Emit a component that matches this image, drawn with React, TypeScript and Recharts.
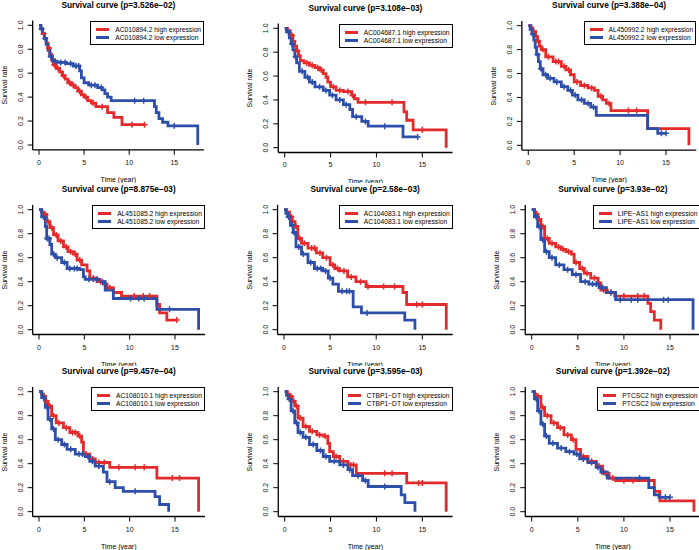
import { LineChart, Line, XAxis, YAxis } from "recharts";

type Step = [number, number];

const FONT = '"Liberation Sans", Arial, Helvetica, sans-serif';
const RED = "#e42a2b";
const BLUE = "#2d4fa9";

const TIME_TICKS = [0, 5, 10, 15];
const RATE_TICKS = [0, 0.2, 0.4, 0.6, 0.8, 1.0];
const X_DOMAIN: [number, number] = [-0.7, 18.3];
const Y_DOMAIN: [number, number] = [-0.04, 1.04];

const GENES = [
  "AC010894.2", "AC004687.1", "AL450992.2",
  "AL451085.2", "AC104083.1", "LIPE\u2212AS1",
  "AC108010.1", "CTBP1\u2212DT", "PTCSC2",
];
const P_VALUES = [
  "3.526e\u221202", "3.108e\u221203", "3.388e\u221204",
  "8.875e\u221203", "2.58e\u221203", "3.93e\u221202",
  "9.457e\u221204", "3.595e\u221203", "1.392e\u221202",
];

// each step: [time in years, survival after the drop]; censor lists are times
const p1High: Step[] = [[0.2, 0.97], [0.4, 0.93], [0.6, 0.89], [0.8, 0.85], [1.0, 0.81], [1.2, 0.76], [1.4, 0.71], [1.6, 0.67], [1.9, 0.64], [2.3, 0.61], [2.6, 0.58], [2.9, 0.55], [3.2, 0.52], [3.6, 0.5], [4.0, 0.48], [4.3, 0.45], [4.7, 0.42], [5.0, 0.4], [5.4, 0.37], [5.8, 0.35], [6.3, 0.32], [7.6, 0.27], [8.3, 0.23], [9.2, 0.17]];
const p1HighCens = [0.5, 1.1, 1.7, 2.1, 2.7, 3.4, 3.8, 4.5, 5.2, 6.0, 7.0, 10.3, 11.7];
const p1Low: Step[] = [[0.2, 0.97], [0.4, 0.93], [0.6, 0.89], [0.8, 0.84], [1.0, 0.79], [1.2, 0.74], [1.5, 0.7], [2.0, 0.69], [3.0, 0.68], [3.8, 0.66], [4.5, 0.62], [4.7, 0.56], [5.0, 0.52], [5.5, 0.5], [6.5, 0.48], [7.0, 0.46], [7.3, 0.43], [7.6, 0.4], [8.0, 0.37], [12.8, 0.32], [13.0, 0.27], [13.3, 0.22], [13.7, 0.19], [14.3, 0.16], [17.6, 0]];
const p1LowCens = [0.3, 0.7, 1.3, 1.8, 2.4, 2.9, 3.5, 4.1, 4.4, 5.8, 6.2, 6.9, 10.6, 11.6, 15.0];

const p2High: Step[] = [[0.3, 0.98], [0.6, 0.94], [0.9, 0.89], [1.1, 0.85], [1.3, 0.81], [1.5, 0.77], [1.7, 0.73], [2.1, 0.71], [2.7, 0.69], [3.3, 0.67], [3.8, 0.65], [4.2, 0.62], [4.5, 0.59], [4.7, 0.55], [5.0, 0.51], [5.6, 0.48], [6.4, 0.47], [7.3, 0.44], [7.6, 0.41], [8.0, 0.38], [13.0, 0.3], [13.3, 0.23], [14.0, 0.15], [17.6, 0]];
const p2HighCens = [0.8, 1.4, 2.4, 3.0, 3.6, 4.0, 5.3, 6.0, 6.9, 7.4, 8.8, 11.7, 15.0];
const p2Low: Step[] = [[0.2, 0.97], [0.5, 0.92], [0.7, 0.87], [0.9, 0.82], [1.1, 0.76], [1.3, 0.71], [1.6, 0.64], [2.2, 0.59], [2.7, 0.55], [3.3, 0.51], [4.2, 0.48], [4.9, 0.44], [5.6, 0.4], [6.4, 0.36], [7.1, 0.32], [7.4, 0.26], [8.4, 0.22], [9.1, 0.18], [12.9, 0.09]];
const p2LowCens = [0.4, 0.8, 1.2, 1.9, 2.5, 3.0, 3.8, 4.5, 5.2, 6.0, 6.7, 7.8, 8.8, 10.9, 14.5];

const p3High: Step[] = [[0.3, 0.98], [0.5, 0.95], [0.8, 0.91], [1.0, 0.87], [1.2, 0.83], [1.4, 0.8], [1.9, 0.74], [2.7, 0.7], [3.6, 0.66], [4.1, 0.63], [4.6, 0.59], [5.0, 0.53], [5.7, 0.5], [6.5, 0.48], [7.2, 0.46], [7.6, 0.41], [8.1, 0.38], [8.5, 0.35], [9.0, 0.29], [13.0, 0.14], [17.5, 0]];
const p3HighCens = [0.6, 1.1, 1.6, 2.2, 3.0, 3.3, 3.9, 4.4, 5.3, 6.1, 6.9, 7.9, 8.8, 10.9, 11.8];
const p3Low: Step[] = [[0.2, 0.97], [0.4, 0.93], [0.6, 0.88], [0.75, 0.82], [0.9, 0.76], [1.1, 0.7], [1.3, 0.64], [1.6, 0.59], [2.1, 0.56], [2.8, 0.53], [3.6, 0.49], [4.3, 0.46], [4.8, 0.42], [5.4, 0.38], [6.1, 0.35], [6.8, 0.32], [7.4, 0.25], [13.0, 0.14], [14.1, 0.1]];
const p3LowCens = [0.5, 1.0, 1.4, 1.9, 2.4, 3.1, 3.9, 4.6, 5.1, 5.8, 6.5, 7.1, 14.5, 15.0];

const p4High: Step[] = [[0.3, 0.98], [0.5, 0.96], [0.85, 0.9], [1.2, 0.85], [1.6, 0.79], [2.1, 0.74], [2.7, 0.69], [3.2, 0.65], [3.8, 0.63], [4.2, 0.58], [4.7, 0.54], [5.3, 0.49], [5.6, 0.43], [6.4, 0.4], [7.1, 0.38], [7.5, 0.35], [8.2, 0.31], [9.1, 0.28], [13.0, 0.21], [13.3, 0.14], [14.1, 0.08]];
const p4HighCens = [0.7, 1.0, 1.4, 1.9, 2.4, 3.0, 3.5, 4.0, 4.5, 6.0, 6.8, 7.8, 10.5, 11.5, 12.2, 15.2];
const p4Low: Step[] = [[0.3, 0.94], [0.7, 0.86], [0.85, 0.76], [1.2, 0.71], [1.4, 0.63], [1.8, 0.6], [2.5, 0.56], [3.1, 0.51], [4.5, 0.5], [4.9, 0.44], [5.1, 0.42], [6.7, 0.4], [7.3, 0.33], [8.2, 0.26], [13.0, 0.17], [17.6, 0]];
const p4LowCens = [0.5, 0.9, 1.1, 1.6, 2.0, 2.8, 3.4, 3.9, 4.2, 5.5, 6.0, 6.4, 7.0, 10.1, 11.0, 11.6, 14.4];

const p5High: Step[] = [[0.3, 0.98], [0.6, 0.94], [0.9, 0.9], [1.2, 0.86], [1.5, 0.76], [1.9, 0.72], [2.6, 0.68], [3.5, 0.64], [4.2, 0.6], [5.0, 0.54], [5.5, 0.51], [6.0, 0.49], [6.9, 0.44], [7.8, 0.4], [8.9, 0.36], [12.9, 0.31], [13.3, 0.21], [17.6, 0]];
const p5HighCens = [0.8, 1.3, 1.7, 2.2, 3.0, 3.3, 3.9, 4.6, 5.3, 5.8, 6.5, 7.3, 8.3, 9.1, 10.8, 12.0, 14.4, 15.0];
const p5Low: Step[] = [[0.2, 0.97], [0.4, 0.94], [0.7, 0.87], [1.0, 0.81], [1.3, 0.69], [1.9, 0.63], [2.6, 0.56], [3.3, 0.51], [4.2, 0.49], [4.8, 0.43], [5.3, 0.38], [5.9, 0.32], [7.5, 0.19], [8.4, 0.14], [13.1, 0.08], [14.2, 0]];
const p5LowCens = [0.5, 0.9, 1.1, 1.6, 2.1, 2.9, 3.6, 4.0, 4.5, 5.0, 6.3, 6.8, 7.1, 9.0];

const p6High: Step[] = [[0.3, 0.98], [0.5, 0.96], [0.7, 0.92], [1.0, 0.86], [1.4, 0.76], [1.9, 0.72], [2.6, 0.69], [3.2, 0.67], [3.7, 0.65], [4.3, 0.63], [4.6, 0.56], [5.2, 0.51], [5.7, 0.47], [6.4, 0.43], [7.2, 0.39], [7.5, 0.33], [8.2, 0.31], [9.0, 0.28], [12.6, 0.22], [12.9, 0.15], [13.3, 0.08], [14.0, 0]];
const p6HighCens = [0.8, 1.2, 1.7, 2.2, 2.9, 3.4, 4.0, 4.8, 5.5, 6.0, 6.8, 7.8, 8.6, 10.0, 11.5, 12.2];
const p6Low: Step[] = [[0.3, 0.94], [0.65, 0.86], [1.0, 0.75], [1.4, 0.65], [1.9, 0.6], [2.6, 0.54], [3.5, 0.5], [4.4, 0.46], [5.3, 0.4], [6.2, 0.38], [7.3, 0.35], [8.1, 0.31], [9.1, 0.25], [17.5, 0]];
const p6LowCens = [0.5, 0.8, 1.2, 1.6, 2.2, 3.0, 3.9, 4.8, 5.8, 6.6, 7.0, 7.7, 8.6, 9.6, 10.8, 11.5, 14.3, 14.8];

const p7High: Step[] = [[0.3, 0.98], [0.5, 0.96], [0.75, 0.92], [1.0, 0.88], [1.4, 0.8], [1.9, 0.74], [2.7, 0.7], [3.4, 0.66], [4.3, 0.63], [4.7, 0.58], [4.9, 0.48], [5.6, 0.44], [6.2, 0.41], [7.8, 0.37], [13.0, 0.28], [17.6, 0]];
const p7HighCens = [0.8, 1.2, 1.6, 2.2, 3.0, 3.7, 4.0, 4.5, 5.2, 5.9, 6.6, 7.2, 8.8, 10.6, 11.6, 14.7, 15.5];
const p7Low: Step[] = [[0.3, 0.95], [0.7, 0.87], [1.0, 0.77], [1.4, 0.69], [1.8, 0.6], [2.5, 0.56], [3.1, 0.52], [4.0, 0.48], [5.1, 0.46], [5.6, 0.42], [6.2, 0.38], [7.1, 0.33], [7.5, 0.25], [8.4, 0.2], [9.3, 0.17], [12.8, 0.125], [13.3, 0.06], [14.3, 0]];
const p7LowCens = [0.5, 0.9, 1.2, 1.6, 2.1, 2.8, 3.5, 4.4, 4.8, 5.4, 5.9, 6.6, 7.8, 10.6];

const p8High: Step[] = [[0.3, 0.98], [0.5, 0.96], [0.8, 0.92], [1.1, 0.88], [1.45, 0.78], [2.0, 0.71], [2.7, 0.67], [3.5, 0.64], [4.2, 0.63], [4.7, 0.57], [4.9, 0.5], [5.3, 0.46], [6.0, 0.42], [6.9, 0.39], [7.8, 0.32], [13.3, 0.24], [17.6, 0]];
const p8HighCens = [0.7, 1.0, 1.3, 1.7, 2.3, 3.0, 3.8, 4.4, 5.6, 6.4, 7.2, 7.5, 10.9, 11.7, 14.6, 15.0];
const p8Low: Step[] = [[0.2, 0.97], [0.4, 0.94], [0.7, 0.84], [1.1, 0.74], [1.45, 0.66], [2.0, 0.62], [2.7, 0.56], [3.5, 0.51], [4.2, 0.46], [4.9, 0.42], [6.0, 0.39], [6.9, 0.35], [7.4, 0.3], [8.5, 0.26], [9.1, 0.21], [12.7, 0.14], [13.1, 0.075], [14.2, 0]];
const p8LowCens = [0.5, 0.9, 1.3, 1.7, 2.3, 3.1, 3.9, 4.5, 5.4, 6.4, 7.1, 8.0, 8.8, 10.9];

const p9High: Step[] = [[0.3, 0.98], [0.5, 0.96], [1.0, 0.87], [1.4, 0.8], [2.1, 0.74], [2.8, 0.7], [3.5, 0.64], [4.3, 0.6], [4.8, 0.52], [5.3, 0.46], [6.1, 0.42], [7.0, 0.38], [7.7, 0.32], [8.4, 0.28], [9.1, 0.26], [13.3, 0.17], [13.9, 0.09], [17.6, 0]];
const p9HighCens = [0.7, 1.2, 1.7, 2.4, 3.1, 3.9, 4.5, 5.6, 6.5, 7.3, 8.0, 8.8, 10.0, 11.0];
const p9Low: Step[] = [[0.3, 0.94], [0.65, 0.84], [1.0, 0.73], [1.4, 0.63], [1.9, 0.57], [2.8, 0.53], [3.7, 0.5], [4.6, 0.48], [5.2, 0.44], [6.1, 0.41], [7.0, 0.37], [7.5, 0.33], [8.2, 0.28], [12.7, 0.2], [13.3, 0.14], [13.8, 0.12]];
const p9LowCens = [0.5, 0.8, 1.2, 1.6, 2.3, 3.2, 4.1, 4.9, 5.6, 6.5, 7.2, 7.8, 11.7, 14.5, 15.0];

const SERIES: [Step[], number[], Step[], number[]][] = [
  [p1High, p1HighCens, p1Low, p1LowCens],
  [p2High, p2HighCens, p2Low, p2LowCens],
  [p3High, p3HighCens, p3Low, p3LowCens],
  [p4High, p4HighCens, p4Low, p4LowCens],
  [p5High, p5HighCens, p5Low, p5LowCens],
  [p6High, p6HighCens, p6Low, p6LowCens],
  [p7High, p7HighCens, p7Low, p7LowCens],
  [p8High, p8HighCens, p8Low, p8LowCens],
  [p9High, p9HighCens, p9Low, p9LowCens],
];

// pixel calibration of each panel: x of t=0, x of t=15, y of 1.0, y of 0.0
const LAYOUT = [
  { x0: 39, x15: 174.3, y1: 25.3, y0: 145 },
  { x0: 284.7, x15: 422.3, y1: 28.3, y0: 147.7 },
  { x0: 528.3, x15: 666, y1: 25.7, y0: 145.3 },
  { x0: 39, x15: 175, y1: 209.7, y0: 329.7 },
  { x0: 284, x15: 422.3, y1: 209.7, y0: 329.7 },
  { x0: 531.7, x15: 670, y1: 209.7, y0: 329.7 },
  { x0: 39, x15: 175, y1: 391.7, y0: 511.7 },
  { x0: 284.7, x15: 422.3, y1: 391.7, y0: 511.7 },
  { x0: 531.7, x15: 670, y1: 391.7, y0: 511.7 },
];
const COL_LEFTS = [0, 233, 466, 699];
const ROW_TOPS = [0, 183, 366, 550];

function km(steps: Step[], cens: number[]) {
  const pts = [{ t: 0, s: 1, c: false }, ...steps.map(([t, s]) => ({ t, s, c: false }))];
  for (const t of cens) {
    let s = 1;
    for (const [st, sv] of steps) if (st <= t) s = sv;
    pts.push({ t, s, c: true });
  }
  pts.sort((a, b) => a.t - b.t || (a.c ? 1 : -1));
  return pts;
}

const censorDot = (color: string) => (props: any) => {
  const { cx, cy, payload, index } = props;
  if (!payload?.c) return <g key={`n${index}`} />;
  return (
    <path
      key={`c${index}`}
      d={`M${cx - 3},${cy}H${cx + 3}M${cx},${cy - 3}V${cy + 3}`}
      stroke={color}
      strokeWidth={1.5}
      fill="none"
    />
  );
};

const XTick = (props: any) => (
  <text x={props.x} y={props.y} dy={8} textAnchor="middle" fontSize={7} fontFamily={FONT} fill="#111">
    {props.payload.value}
  </text>
);

const YTick = (props: any) => (
  <text
    x={props.x}
    y={props.y}
    transform={`rotate(-90 ${props.x} ${props.y})`}
    textAnchor="middle"
    fontSize={7}
    fontFamily={FONT}
    fill="#111"
  >
    {Number(props.payload.value).toFixed(1)}
  </text>
);

const YW = 20;
const XH = 20;
const CW = 245;

function Panel({ i }: { i: number }) {
  const L = LAYOUT[i];
  const col = i % 3;
  const row = Math.floor(i / 3);
  const cellX = COL_LEFTS[col];
  const cellY = ROW_TOPS[row];
  const cellW = COL_LEFTS[col + 1] - cellX;
  const cellH = ROW_TOPS[row + 1] - cellY;
  const kx = (L.x15 - L.x0) / 15;
  const ky = L.y0 - L.y1;
  const left = L.x0 + X_DOMAIN[0] * kx - cellX;
  const right = L.x0 + X_DOMAIN[1] * kx - cellX;
  const top = L.y0 - Y_DOMAIN[1] * ky - cellY;
  const bottom = L.y0 - Y_DOMAIN[0] * ky - cellY;
  const [hi, hiC, lo, loC] = SERIES[i];
  const high = km(hi, hiC);
  const low = km(lo, loC);
  const midX = (left + right) / 2;

  return (
    <div style={{ position: "absolute", left: cellX, top: cellY, width: cellW, height: cellH, overflow: "hidden" }}>
      <div style={{ position: "absolute", left: 0, top: 0, width: CW, height: cellH, fontFamily: FONT }}>
        <LineChart
          width={CW}
          height={cellH}
          margin={{ top, left: left - YW, right: CW - right, bottom: cellH - bottom - XH }}
        >
          <XAxis
            type="number"
            dataKey="t"
            domain={X_DOMAIN}
            ticks={TIME_TICKS}
            allowDataOverflow
            height={XH}
            tickSize={5}
            tickMargin={2}
            tick={<XTick />}
            axisLine={{ stroke: "#000", strokeWidth: 1.3 }}
            tickLine={{ stroke: "#000", strokeWidth: 1 }}
          />
          <YAxis
            type="number"
            dataKey="s"
            domain={Y_DOMAIN}
            ticks={RATE_TICKS}
            allowDataOverflow
            width={YW}
            tickSize={5}
            tickMargin={5}
            tick={<YTick />}
            axisLine={{ stroke: "#000", strokeWidth: 1.3 }}
            tickLine={{ stroke: "#000", strokeWidth: 1 }}
          />
          <Line
            data={high}
            dataKey="s"
            type="stepAfter"
            stroke={RED}
            strokeWidth={2.8}
            dot={censorDot(RED)}
            activeDot={false}
            isAnimationActive={false}
          />
          <Line
            data={low}
            dataKey="s"
            type="stepAfter"
            stroke={BLUE}
            strokeWidth={2.8}
            dot={censorDot(BLUE)}
            activeDot={false}
            isAnimationActive={false}
          />
        </LineChart>
        <div
          style={{
            position: "absolute",
            left: midX,
            top: top - 21,
            transform: "translateX(-50%)",
            fontWeight: "bold",
            fontSize: 8.3,
            lineHeight: "10px",
            whiteSpace: "nowrap",
          }}
        >
          {`Survival curve (p=${P_VALUES[i]})`}
        </div>
        <div
          style={{
            position: "absolute",
            left: left - 28,
            top: (top + bottom) / 2,
            transform: "translate(-50%, -50%) rotate(-90deg)",
            fontSize: 7,
            lineHeight: "8px",
            whiteSpace: "nowrap",
          }}
        >
          Survival rate
        </div>
        <div
          style={{
            position: "absolute",
            left: midX,
            top: bottom + 25,
            transform: "translateX(-50%)",
            fontSize: 7,
            lineHeight: "9px",
            whiteSpace: "nowrap",
          }}
        >
          Time (year)
        </div>
        <div
          style={{
            position: "absolute",
            right: CW - right,
            top,
            border: "1px solid #000",
            background: "#fff",
            padding: "4px 2px 2px 5px",
            fontSize: 6.7,
            lineHeight: "8px",
            whiteSpace: "nowrap",
          }}
        >
          {[
            [RED, `${GENES[i]} high expression`],
            [BLUE, `${GENES[i]} low expression`],
          ].map(([c, label]) => (
            <div key={label} style={{ display: "flex", alignItems: "center" }}>
              <span style={{ display: "inline-block", width: 13, height: 3, background: c, marginRight: 6 }} />
              <span>{label}</span>
            </div>
          ))}
        </div>
      </div>
    </div>
  );
}

export default function App() {
  return (
    <div
      style={{
        position: "absolute",
        left: 0,
        top: 0,
        width: 699,
        height: 550,
        overflow: "hidden",
        background: "#fff",
      }}
    >
      {GENES.map((_, i) => (
        <Panel key={i} i={i} />
      ))}
    </div>
  );
}
